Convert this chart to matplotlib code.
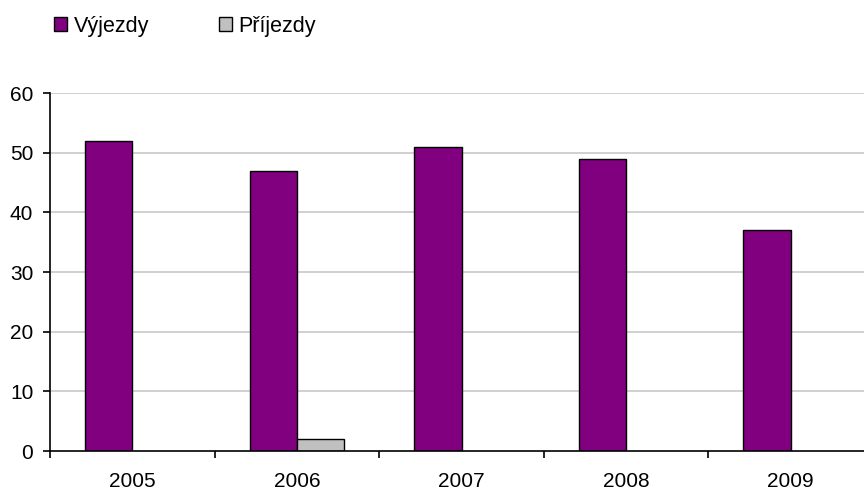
import numpy as np
import matplotlib
matplotlib.use('Agg')
import matplotlib.pyplot as plt

# Datos del grafico
roky = ['2005', '2006', '2007', '2008', '2009']
vyjezdy = [52, 47, 51, 49, 37]
prijezdy = [0, 2, 0, 0, 0]

plt.rcParams['font.family'] = ['Liberation Sans', 'DejaVu Sans']

fig = plt.figure(figsize=(8.64, 4.90), dpi=100)
ax = fig.add_axes([50 / 864, 1 - 451 / 490, 823 / 864, 358 / 490])

x = np.arange(len(roky)) + 0.5
w = 0.287

# Barras; las de valor 0 no se dibujan
ax.bar(x - w / 2, vyjezdy, width=w, color='#800080', edgecolor='black',
       linewidth=1.0, label='Výjezdy', zorder=3)
prij_h = [v if v > 0 else np.nan for v in prijezdy]
ax.bar(x + w / 2, prij_h, width=w, color='#c0c0c0', edgecolor='black',
       linewidth=1.0, label='Příjezdy', zorder=3)

ax.set_xlim(0, len(roky))
ax.set_ylim(0, 60)
ax.set_yticks(range(0, 61, 10))
ax.set_xticks(x)
ax.set_xticklabels(roky)
ax.set_xticks(np.arange(len(roky) + 1), minor=True)
ax.tick_params(axis='x', which='major', length=0, pad=15, labelsize=15)
ax.tick_params(axis='x', which='minor', length=5, width=1.2, color='black')
ax.tick_params(axis='y', length=5, width=1.2, labelsize=15, pad=7)

# Lineas de la cuadricula
for yv in range(10, 61, 10):
    ax.axhline(yv, color='#c8c8c8', linewidth=1.2, zorder=1)

ax.spines['top'].set_visible(False)
ax.spines['right'].set_visible(False)
ax.spines['left'].set_linewidth(1.2)
ax.spines['bottom'].set_linewidth(1.2)
ax.spines['bottom'].set_zorder(4)

fig.legend(loc='upper left', bbox_to_anchor=(45 / 864, 1 - 7 / 490), ncol=2,
           frameon=False, fontsize=15.5, handlelength=0.62, handleheight=0.62,
           handletextpad=0.3, columnspacing=3.25, borderaxespad=0)

fig.savefig('out.png', dpi=100)
